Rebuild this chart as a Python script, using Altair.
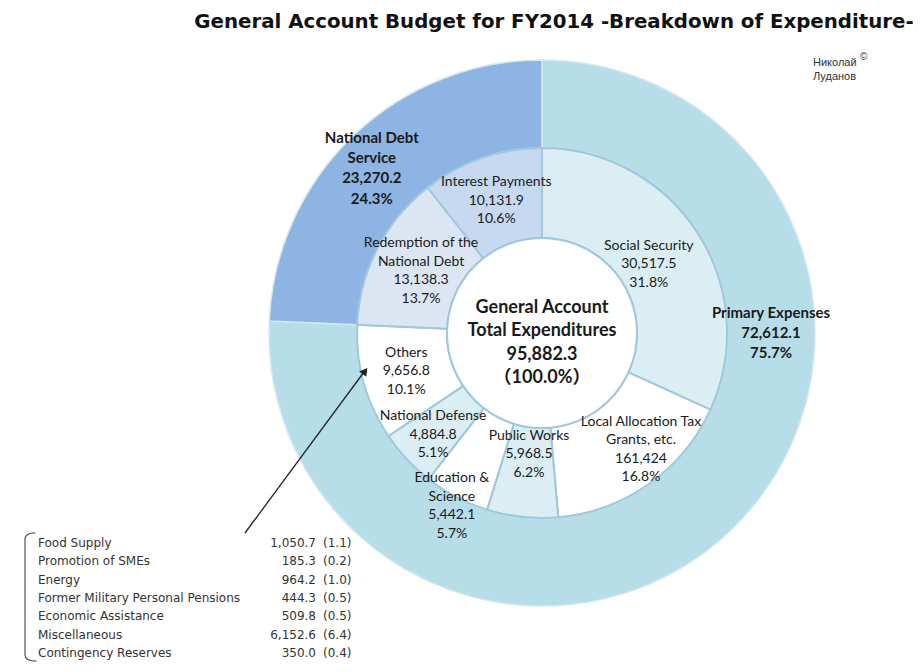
import math
import altair as alt
import pandas as pd

# ---------------- data ----------------
outer_names = ["Primary Expenses", "National Debt Service"]
outer_display = ["Primary Expenses", "National Debt\nService"]
outer_amounts = ["72,612.1", "23,270.2"]
outer_pct = [75.7, 24.3]

inner_names = ["Social Security", "Local Allocation Tax Grants, etc.", "Public Works",
               "Education & Science", "National Defense", "Others",
               "Redemption of the National Debt", "Interest Payments"]
inner_display = ["Social Security", "Local Allocation Tax\nGrants, etc.", "Public Works",
                 "Education &\nScience", "National Defense", "Others",
                 "Redemption of the\nNational Debt", "Interest Payments"]
inner_amounts = ["30,517.5", "161,424", "5,968.5", "5,442.1", "4,884.8", "9,656.8",
                 "13,138.3", "10,131.9"]
inner_pct = [31.8, 16.8, 6.2, 5.7, 5.1, 10.1, 13.7, 10.6]

other_items = ["Food Supply", "Promotion of SMEs", "Energy",
               "Former Military Personal Pensions", "Economic Assistance",
               "Miscellaneous", "Contingency Reserves"]
other_amounts = ["1,050.7", "185.3", "964.2", "444.3", "509.8", "6,152.6", "350.0"]
other_pct = ["(1.1)", "(0.2)", "(1.0)", "(0.5)", "(0.5)", "(6.4)", "(0.4)"]

total_amount = "95,882.3"
total_pct = 100.0

title_text = "General Account Budget for FY2014 -Breakdown of Expenditure-"
author_text = "Николай\nЛуданов"

# ---------------- styles / layout ----------------
outer_colors = ["#b7dde8", "#8db4e2"]
inner_colors = ["#daeef3", "#ffffff", "#daeef3", "#ffffff", "#daeef3", "#ffffff",
                "#dce6f2", "#c6d9f1"]

CX, CY = 534, 325
R_OUT, R_MID, R_IN = 273, 185, 95
LABEL_FONT = "Lato, Noto Sans CJK JP, sans-serif"
TABLE_FONT = "DejaVu Sans, sans-serif"
TXT = "#1a1a1a"

# label placement: radius (px) from centre and small angular nudge (% of circle)
LABEL_RADIUS = {"Social Security": 127, "Local Allocation Tax Grants, etc.": 153,
                "Public Works": 122, "Education & Science": 195, "National Defense": 149,
                "Others": 141, "Redemption of the National Debt": 136,
                "Interest Payments": 140, "Primary Expenses": 229,
                "National Debt Service": 237}
LABEL_NUDGE = {"Local Allocation Tax Grants, etc.": -1.4, "National Debt Service": -0.6}
LABEL_ANCHOR = {"Primary Expenses": 25.0}


def ring(names, display, amounts, pct):
    rows, acc = [], 0.0
    for n, d, a, p in zip(names, display, amounts, pct):
        label = f"{d}\n{a}\n{p:.1f}%"
        mid = acc + p / 2
        rows.append({"name": n, "start": acc, "end": acc + p,
                     "label_at": LABEL_ANCHOR.get(n, mid + LABEL_NUDGE.get(n, 0.0)),
                     "label": label, "lines": label.count("\n") + 1})
        acc += p
    return pd.DataFrame(rows)


outer_df = ring(outer_names, outer_display, outer_amounts, outer_pct)
inner_df = ring(inner_names, inner_display, inner_amounts, inner_pct)

center_df = pd.DataFrame([{"label": f"General Account\nTotal Expenditures\n{total_amount}\n（{total_pct:.1f}%）"}])
table_df = pd.DataFrame({"row": list(range(len(other_items))), "item": other_items,
                         "amount": other_amounts, "pct": other_pct})
misc_df = pd.DataFrame([{"t": title_text, "a": author_text}])

theta_scale = alt.Scale(domain=[0, 100], range=[0, 2 * math.pi])
fill_scale = alt.Scale(domain=outer_names + inner_names, range=outer_colors + inner_colors)
cx, cy = alt.value(CX), alt.value(CY)

outer_arcs = alt.Chart(outer_df).mark_arc(radius=R_OUT, radius2=R_MID, stroke="#d3e8f1",
                                          strokeWidth=1.5).encode(
    theta=alt.Theta("start:Q", scale=theta_scale), theta2="end:Q",
    fill=alt.Fill("name:N", scale=fill_scale, legend=None), x=cx, y=cy)

inner_arcs = alt.Chart(inner_df).mark_arc(radius=R_MID, radius2=R_IN, stroke="#9fc8da",
                                          strokeWidth=2).encode(
    theta=alt.Theta("start:Q", scale=theta_scale), theta2="end:Q",
    fill=alt.Fill("name:N", scale=fill_scale, legend=None), x=cx, y=cy)

center_circle = alt.Chart(center_df).mark_arc(radius=R_IN, theta=0, theta2=2 * math.pi,
                                              fill="#ffffff", stroke="#9fc8da",
                                              strokeWidth=2).encode(x=cx, y=cy)


def label_layers(df, size, lh, weight):
    layers = []
    for _, r in df.iterrows():
        layers.append(
            alt.Chart(df).transform_filter(alt.datum.name == r["name"]).mark_text(
                radius=LABEL_RADIUS[r["name"]], lineBreak="\n", font=LABEL_FONT,
                fontSize=size, fontWeight=weight, lineHeight=lh, color=TXT,
                align="center", baseline="middle", dy=-(r["lines"] - 1) * lh / 2).encode(
                theta=alt.Theta("label_at:Q", scale=theta_scale, stack=False),
                text="label:N", x=cx, y=cy))
    return layers


inner_labels = label_layers(inner_df, 14, 18.5, "normal")
outer_labels = label_layers(outer_df, 15, 20.3, "bold")

center_text = alt.Chart(center_df).mark_text(
    lineBreak="\n", font=LABEL_FONT, fontSize=18, fontWeight="bold", lineHeight=23.5,
    color=TXT, align="center", baseline="middle", dy=10 - 1.5 * 23.5).encode(
    text="label:N", x=cx, y=cy)

row_y = alt.Y("row:Q", scale=alt.Scale(domain=[0, len(other_items) - 1], range=[535, 645],
                                       nice=False, zero=False), axis=None)
tbl_items = alt.Chart(table_df).mark_text(font=TABLE_FONT, fontSize=12, color="#333333",
                                          align="left", baseline="middle").encode(
    text="item:N", x=alt.value(30), y=row_y)
tbl_amounts = alt.Chart(table_df).mark_text(font=TABLE_FONT, fontSize=12, color="#333333",
                                            align="right", baseline="middle").encode(
    text="amount:N", x=alt.value(308), y=row_y)
tbl_pct = alt.Chart(table_df).mark_text(font=TABLE_FONT, fontSize=12, color="#333333",
                                        align="left", baseline="middle").encode(
    text="pct:N", x=alt.value(315), y=row_y)

bracket = alt.Chart(misc_df).mark_point(
    shape="M 0.16 -1 C 0.05 -1 0 -0.97 0 -0.9 L 0 0.9 C 0 0.97 0.05 1 0.18 1",
    size=16400, filled=False, stroke="#555555", strokeWidth=1.2, opacity=1).encode(
    x=alt.value(17), y=alt.value(589))

arrow_line = alt.Chart(misc_df).mark_rule(color="#222222", strokeWidth=1.3).encode(
    x=alt.value(237), y=alt.value(525), x2=alt.value(356), y2=alt.value(364))
arrow_head = alt.Chart(misc_df).mark_point(shape="triangle-up", angle=36.5, size=80,
                                           filled=True, color="#222222", opacity=1).encode(
    x=alt.value(357), y=alt.value(363))

title = alt.Chart(misc_df).mark_text(font="DejaVu Sans", fontSize=19.8, fontWeight="bold",
                                     color="#111111", align="center",
                                     baseline="alphabetic").encode(
    text="t:N", x=alt.value(546), y=alt.value(20))

author = alt.Chart(misc_df).mark_text(font="Liberation Sans", fontSize=11, lineBreak="\n",
                                      lineHeight=14, color="#333333", align="left",
                                      baseline="middle").encode(
    text="a:N", x=alt.value(805), y=alt.value(55))
copy_mark = alt.Chart(misc_df).mark_text(font="Liberation Sans", fontSize=10, color="#333333",
                                         align="left", baseline="middle", text="©").encode(
    x=alt.value(852), y=alt.value(49))

chart = alt.layer(
    outer_arcs, inner_arcs, center_circle, *inner_labels, *outer_labels, center_text,
    tbl_items, tbl_amounts, tbl_pct, bracket, arrow_line, arrow_head, title, author, copy_mark
).properties(
    width=907, height=655, padding=0, autosize=alt.AutoSizeParams(type="none")
).configure_view(strokeWidth=0)

chart.save("out.html", embed_options={"renderer": "svg", "actions": False})
